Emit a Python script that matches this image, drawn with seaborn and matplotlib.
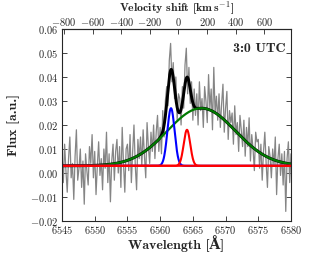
import numpy as np
import pandas as pd
import matplotlib
matplotlib.use("Agg")
import matplotlib.pyplot as plt
import seaborn as sns

# ---------------- data ----------------
wl_start, wl_end = 6545.0, 6580.0
flux_milli = [
    9, -4, 12, 1, -8, 6, 15, -2, 4, -11,
    7, 18, -3, 2, 10, -6, 5, -13, 8, 1,
    -5, 11, 4, 16, -2, 9, -9, 3, 13, -1,
    6, -7, 10, 2, 17, -4, 8, -12, 5, 12,
    -3, 9, 14, 0, 11, -6, 19, 4, -8, 10,
    12, 1, 16, -4, 9, 20, 3, -7, 14, 6,
    15, 3, 18, 7, -2, 21, 11, 4, 17, 9,
    20, 6, 17, 24, 9, 19, 8, 26, 15, 30,
    36, 28, 47, 54, 38, 46, 31, 40, 22, 33,
    31, 20, 36, 27, 45, 52, 33, 44, 29, 38,
    22, 35, 24, 33, 20, 38, 26, 31, 19, 36,
    30, 21, 41, 27, 35, 18, 44, 25, 32, 22,
    33, 19, 29, 37, 17, 27, 34, 14, 26, 21,
    25, 12, 28, 16, 21, 9, 24, 18, 11, 22,
    7, 19, 11, 23, 5, 16, 10, 1, 17, 13,
    14, 2, 12, -3, 9, 17, 4, -6, 11, 7,
    -2, 10, 3, 15, -9, 6, 12, -1, 8, -5,
    9, -16, 6, 13, -4, 8,
]
# fit components: baseline + gaussians (amplitude, centre [A], sigma [A])
baseline = 0.003
comp_names = ["blue", "red", "green"]
comp_amp = [0.024, 0.015, 0.024]
comp_cen = [6561.66, 6564.1, 6566.3]
comp_sig = [0.55, 0.50, 5.2]

rest_wl = 6562.8
c_kms = 299792.458
vel_ticks = [-800, -600, -400, -200, 0, 200, 400, 600]
wl_ticks = [6545, 6550, 6555, 6560, 6565, 6570, 6575, 6580]
flux_ticks = [-0.02, -0.01, 0.00, 0.01, 0.02, 0.03, 0.04, 0.05, 0.06]
label_text = "3:0 UTC"

# ---------------- derived tables ----------------
flux = np.array(flux_milli) / 1000.0
wl = np.linspace(wl_start, wl_end, len(flux))
spec = pd.DataFrame({"wl": wl, "flux": flux})

wl_fine = np.linspace(wl_start, wl_end, 1400)
def gauss(x, a, m, s):
    return a * np.exp(-(x - m) ** 2 / (2 * s ** 2))
comps = {n: baseline + gauss(wl_fine, a, m, s)
         for n, a, m, s in zip(comp_names, comp_amp, comp_cen, comp_sig)}
total = baseline + sum(gauss(wl_fine, a, m, s)
                       for a, m, s in zip(comp_amp, comp_cen, comp_sig))
model = pd.DataFrame({"wl": wl_fine, "total": total,
                      "blue": comps["blue"], "red": comps["red"],
                      "green": comps["green"],
                      "base": np.full_like(wl_fine, baseline)})

# ---------------- style ----------------
sns.set_style("ticks")
plt.rcParams.update({
    "font.family": "serif",
    "font.serif": ["cmr10", "DejaVu Serif"],
    "mathtext.fontset": "cm",
    "axes.formatter.use_mathtext": True,
    "axes.unicode_minus": True,
    "axes.linewidth": 0.8,
})
bold_fam = ["cmb10", "DejaVu Serif"]

fig = plt.figure(figsize=(3.11, 2.56), dpi=100)
ax = fig.add_axes([62 / 311, 1 - 221 / 256, 229 / 311, 192 / 256])

sns.lineplot(data=spec, x="wl", y="flux", ax=ax, color="#858585",
             linewidth=0.9, sort=False, estimator=None)
sns.lineplot(data=model, x="wl", y="total", ax=ax, color="black",
             linewidth=2.1, estimator=None)
sns.lineplot(data=model, x="wl", y="green", ax=ax, color="#007a00",
             linewidth=1.6, estimator=None)
sns.lineplot(data=model, x="wl", y="blue", ax=ax, color="#0000ff",
             linewidth=1.5, estimator=None)
sns.lineplot(data=model, x="wl", y="red", ax=ax, color="#ff0000",
             linewidth=1.5, estimator=None)
sns.lineplot(data=model, x="wl", y="base", ax=ax, color="#ff0000",
             linewidth=1.5, estimator=None)

ax.set_xlim(wl_start, wl_end)
ax.set_ylim(-0.02, 0.06)
ax.set_xticks(wl_ticks)
ax.set_yticks(flux_ticks)
ax.tick_params(direction="in", length=3.5, width=0.6, labelsize=7.5,
               right=True, top=False)
ax.tick_params(axis="y", pad=2.8)
ax.tick_params(axis="x", pad=2.5)

ax.set_xlabel("Wavelength [Å]", fontsize=10, family=bold_fam,
              fontweight="bold", va="center")
ax.xaxis.set_label_coords(0.5, -(244 - 221) / 192, transform=ax.transAxes)
ax.set_ylabel("Flux [a.u.]", fontsize=10, family=bold_fam,
              fontweight="bold", va="center")
ax.yaxis.set_label_coords(-(62 - 14) / 229, 0.5, transform=ax.transAxes)

def lam2v(x):
    return c_kms * (x - rest_wl) / rest_wl
def v2lam(v):
    return rest_wl * (1 + v / c_kms)

sec = ax.secondary_xaxis("top", functions=(lam2v, v2lam))
sec.set_xticks(vel_ticks)
sec.tick_params(direction="in", length=3.5, width=0.6, labelsize=7.5,
                pad=0.6)
sec.set_xlabel(r"Velocity shift [km$\,$s$^{-1}$]", fontsize=8.5,
               family=bold_fam, fontweight="bold", va="center")
sec.xaxis.set_label_coords(0.5, (221 - 8.2) / 192, transform=ax.transAxes)

ax.text(0.975, 0.895, label_text, transform=ax.transAxes, ha="right",
        va="center", fontsize=10, family=bold_fam, fontweight="bold")

fig.savefig("out.png", dpi=100)
